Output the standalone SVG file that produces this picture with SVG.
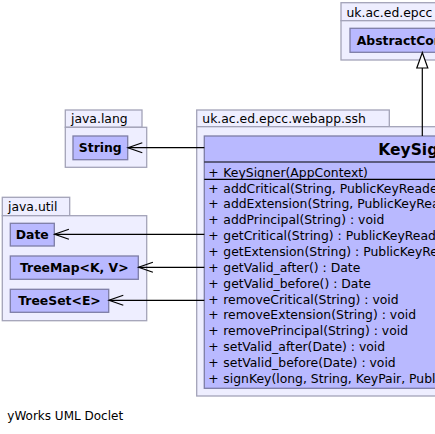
<svg xmlns="http://www.w3.org/2000/svg" width="435" height="434" viewBox="0 0 435 434">
<style>
.pkg{fill:#eeeeff;stroke:#a3a3b8;stroke-width:1.3}
.cls{fill:#b9b9ff;stroke:#7d7da6;stroke-width:1.3}
.t{font-family:"DejaVu Sans",sans-serif;font-size:12.4px;fill:#000}
.b{font-family:"DejaVu Sans",sans-serif;font-size:12.4px;font-weight:bold;fill:#000}
.conn{stroke:#000;stroke-width:1.2;fill:none}
.sep{stroke:#000;stroke-width:1.2}
</style>
<rect width="435" height="434" fill="#fff"/>
<g id="pkg-epcc">
<rect class="pkg" x="341" y="2.7" width="100" height="18"/>
<rect class="pkg" x="341" y="20.7" width="100" height="39.3"/>
<text class="t" x="346.5" y="16.5">uk.ac.ed.epcc</text>
</g>
<g id="AbstractContextObject">
<rect class="cls" x="350" y="28.3" width="100" height="24"/>
<text class="b" x="356.7" y="45">AbstractContextObject</text>
</g>
<g id="pkg-java-lang">
<rect class="pkg" x="65.3" y="110" width="76.7" height="17.3"/>
<rect class="pkg" x="65.3" y="127.3" width="81.4" height="40"/>
<text class="t" x="71" y="123">java.lang</text>
</g>
<g id="String">
<rect class="cls" x="73" y="136" width="54.7" height="23.7"/>
<text class="b" x="100.3" y="152.2" text-anchor="middle">String</text>
</g>
<g id="pkg-java-util">
<rect class="pkg" x="2.3" y="197.3" width="67.4" height="18.4"/>
<rect class="pkg" x="2.3" y="215.7" width="144.4" height="105"/>
<text class="t" x="8" y="211">java.util</text>
</g>
<g id="Date">
<rect class="cls" x="10.3" y="223.3" width="44" height="22.7"/>
<text class="b" x="32.3" y="239" text-anchor="middle">Date</text>
</g>
<g id="TreeMap">
<rect class="cls" x="10.3" y="256" width="128" height="23.3"/>
<text class="b" x="74.3" y="272" text-anchor="middle">TreeMap&lt;K, V&gt;</text>
</g>
<g id="TreeSet">
<rect class="cls" x="10.3" y="289.3" width="98.4" height="23"/>
<text class="b" x="59.5" y="305" text-anchor="middle">TreeSet&lt;E&gt;</text>
</g>
<g id="pkg-ssh">
<rect class="pkg" x="196.7" y="110" width="192.6" height="16.7"/>
<rect class="pkg" x="196.7" y="126.7" width="260" height="269.3"/>
<text class="t" x="202.3" y="123">uk.ac.ed.epcc.webapp.ssh</text>
</g>
<g id="KeySigner">
<rect class="cls" x="204.3" y="136" width="440" height="252.3"/>
<line class="sep" x1="204.3" y1="162" x2="644" y2="162"/>
<line class="sep" x1="204.3" y1="179.3" x2="644" y2="179.3"/>
<text x="378.3" y="155" style="font-family:'DejaVu Sans',sans-serif;font-size:15.5px;font-weight:bold">KeySigner</text>
<g class="t">
<text x="208.3" y="176.5">+</text><text x="223.3" y="176.5">KeySigner(AppContext)</text>
<text x="208.3" y="192.6">+</text><text x="223.3" y="192.6">addCritical(String, PublicKeyReader)</text>
<text x="208.3" y="208.4">+</text><text x="223.3" y="208.4">addExtension(String, PublicKeyReader)</text>
<text x="208.3" y="224.3">+</text><text x="223.3" y="224.3">addPrincipal(String) : void</text>
<text x="208.3" y="240.1">+</text><text x="223.3" y="240.1">getCritical(String) : PublicKeyReader</text>
<text x="208.3" y="256">+</text><text x="223.3" y="256">getExtension(String) : PublicKeyReader</text>
<text x="208.3" y="271.8">+</text><text x="223.3" y="271.8">getValid_after() : Date</text>
<text x="208.3" y="287.7">+</text><text x="223.3" y="287.7">getValid_before() : Date</text>
<text x="208.3" y="303.5">+</text><text x="223.3" y="303.5">removeCritical(String) : void</text>
<text x="208.3" y="319.4">+</text><text x="223.3" y="319.4">removeExtension(String) : void</text>
<text x="208.3" y="335.2">+</text><text x="223.3" y="335.2">removePrincipal(String) : void</text>
<text x="208.3" y="351.1">+</text><text x="223.3" y="351.1">setValid_after(Date) : void</text>
<text x="208.3" y="366.9">+</text><text x="223.3" y="366.9">setValid_before(Date) : void</text>
<text x="208.3" y="382.8">+</text><text x="223.3" y="382.8">signKey(long, String, KeyPair, PublicKeyReader)</text>
</g>
</g>
<g id="connectors">
<line class="conn" x1="204.3" y1="147.7" x2="128" y2="147.7"/>
<polyline class="conn" points="142.3,142.7 128,147.7 142.3,152.7"/>
<line class="conn" x1="204.3" y1="234.3" x2="54.6" y2="234.3"/>
<polyline class="conn" points="68.9,229.3 54.6,234.3 68.9,239.3"/>
<line class="conn" x1="204.3" y1="267.3" x2="138.6" y2="267.3"/>
<polyline class="conn" points="152.9,262.3 138.6,267.3 152.9,272.3"/>
<line class="conn" x1="204.3" y1="300.3" x2="109" y2="300.3"/>
<polyline class="conn" points="123.3,295.3 109,300.3 123.3,305.3"/>
<line class="conn" x1="422.3" y1="136" x2="422.3" y2="68"/>
<polygon points="422.3,52.6 416.8,68 427.8,68" fill="#fff" stroke="#000" stroke-width="1.2"/>
</g>
<text class="t" x="7.3" y="419.5" style="font-size:12px">yWorks UML Doclet</text>
</svg>
